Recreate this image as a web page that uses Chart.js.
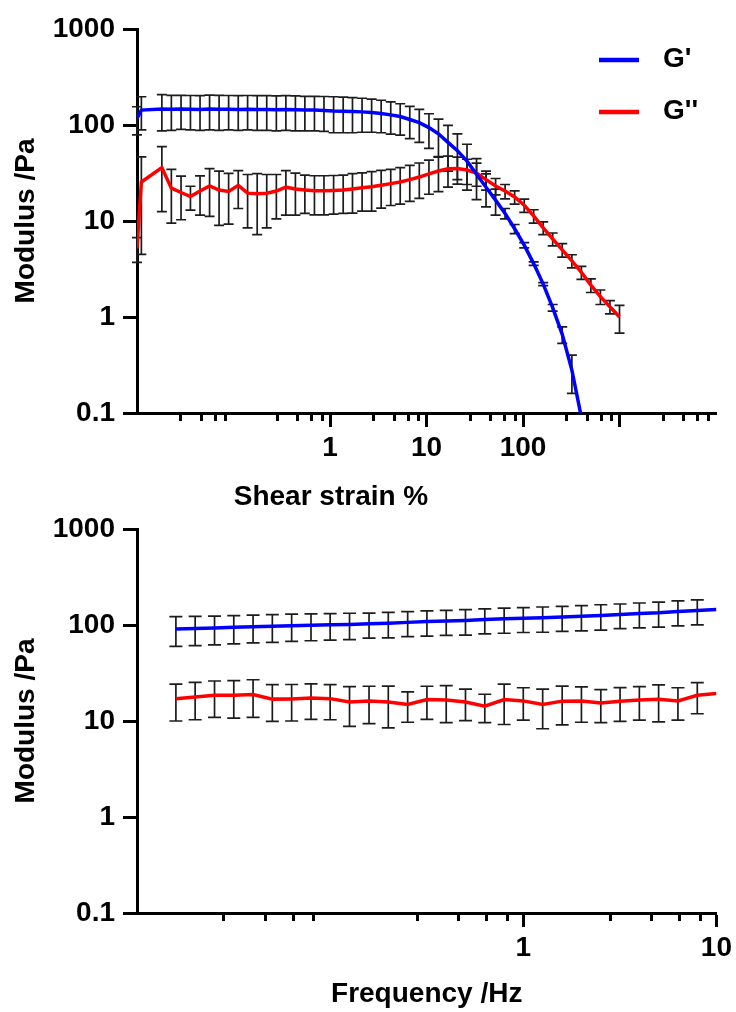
<!DOCTYPE html>
<html>
<head>
<meta charset="utf-8">
<script src="https://cdn.jsdelivr.net/npm/chart.js@4.4.0/dist/chart.umd.min.js"></script>
<style>
html,body{margin:0;padding:0;background:#ffffff;}
#wrap{position:relative;width:736px;height:1012px;overflow:hidden;background:#fff;}
#c1{position:absolute;left:0;top:0;width:736px;height:520px;}
#c2{position:absolute;left:0;top:500px;width:736px;height:512px;}
</style>
</head>
<body>
<div id="wrap">
<canvas id="c1" width="736" height="520"></canvas>
<canvas id="c2" width="736" height="512"></canvas>
</div>
<script>
// ---------- top panel: amplitude sweep ----------
const strainPct = [0.01, 0.0111, 0.0181, 0.0227, 0.0286, 0.0358, 0.045, 0.0565, 0.0709, 0.089, 0.112, 0.14,
  0.176, 0.221, 0.278, 0.349, 0.438, 0.549, 0.69, 0.866, 1.09, 1.37, 1.71, 2.15, 2.7, 3.39, 4.26, 5.34,
  6.71, 8.42, 10.6, 13.3, 16.7, 20.9, 26.3, 33, 41.4, 52, 65.2, 81.9, 103, 129, 162, 203, 255, 321, 403,
  505, 634, 796, 1000];
const gPrimeStrain = [117, 143, 147, 146, 147, 146, 145, 147, 146, 146, 145, 146, 145, 145, 144, 145, 144,
  143, 143, 142, 140, 139, 138, 137, 135, 132, 127.5, 122.4, 114, 105.8, 94, 81, 66, 54, 42, 30.7, 22.5,
  16.5, 12, 8.3, 5.6, 3.6, 2.2, 1.25, 0.66, 0.28, 0.09, null, null, null, null];
const gPrimeStrainSD = [38, 54, 60, 58, 57, 57, 57, 58, 58, 57, 57, 57, 57, 57, 57, 57, 57, 56, 56, 56, 57,
  56, 55, 53, 51, 49, 47, 44, 42, 40, 37, 34, 33, 27, 21, 14, 8.5, 5, 1.5, 0.9, 0.35, 0.15, 0.08, 0.1, 0.13,
  0.12, null, null, null, null, null];
const gDoubleStrain = [5.2, 25.5, 36, 22, 19.8, 18, 20.5, 23.2, 21, 20.3, 23.5, 19.5, 19.2, 19.5, 20.5, 22.5,
  21.5, 21, 20.6, 20.6, 20.8, 21, 21.6, 22.2, 22.7, 23.6, 24.5, 25.5, 27, 28.7, 31, 33.2, 35, 35.2, 34, 31.5,
  27, 23.2, 20.5, 17.8, 14.6, 11.3, 8.5, 6.5, 5.0, 3.85, 2.92, 2.15, 1.63, 1.28, 1.0];
const gDoubleStrainSD = [1.5, 21, 23.5, 12.5, 9.5, 5, 9, 12, 12, 11, 10, 11, 12, 11, 10, 11, 10, 9, 9, 9, 9, 9,
  9.5, 9.5, 10, 10, 10, 10.5, 11, 11.5, 12, 13, 12.5, 11, 10, 8.5, 6, 4.5, 3.5, 2.8, 2.3, 1.8, 1.3, 1.0, 0.8,
  0.6, 0.45, 0.35, 0.28, 0.2, 0.32];

// ---------- bottom panel: frequency sweep ----------
const freqHz = [0.0159, 0.02, 0.0252, 0.0317, 0.0399, 0.0502, 0.0632, 0.0796, 0.1, 0.126, 0.159, 0.2, 0.252,
  0.317, 0.399, 0.502, 0.632, 0.796, 1, 1.26, 1.59, 2, 2.52, 3.17, 3.99, 5.02, 6.32, 7.96, 10];
const gPrimeFreq = [91, 92, 93, 94.5, 96, 97, 98.5, 99.5, 100.5, 101.5, 103, 104.5, 106.5, 108.5, 110, 111.5,
  114, 116, 117.5, 119, 121, 123, 125.5, 128.5, 131.5, 134, 138, 141.5, 145];
const gPrimeFreqSD = [31, 31, 31, 31, 31, 31, 31, 31, 31, 31, 30, 31, 31, 32, 32, 33, 33, 34, 34, 35, 35, 36,
  37, 37, 38, 39, 40, 41, null];
const gDoubleFreq = [17.1, 17.8, 18.5, 18.5, 18.9, 16.9, 17.0, 17.4, 17.1, 15.8, 16.2, 15.8, 14.9, 16.7, 16.5,
  15.8, 14.3, 16.7, 16.2, 14.9, 16.1, 16.2, 15.4, 16.1, 16.5, 16.8, 16.2, 18.5, 19.3];
const gDoubleFreqSD = [7.1, 7.5, 7.6, 7.8, 8, 7, 7, 7, 6.8, 7, 6.8, 7.3, 5.2, 6.3, 6.9, 5.7, 4.7, 7.5, 6, 6.6,
  7, 6.5, 5.8, 6.2, 6.3, 7, 6, 6.6, null];

// ---------- ticks, labels ----------
const yTickValues = [0.1, 1, 10, 100, 1000];
const yTickLabels = ['0.1', '1', '10', '100', '1000'];
const strainMajorTicks = [1, 10, 100, 1000];
const strainMajorLabels = ['1', '10', '100', ''];
const freqMajorTicks = [1, 10];
const freqMajorLabels = ['1', '10'];
const minorMultipliers = [2.8, 4.6, 6.4, 8.2];
const strainDecades = [0.01, 0.1, 1, 10, 100, 1000];
const freqDecades = [0.01, 0.1, 1];
const seriesLabels = ["G'", "G''"];
const seriesColors = ['#0000FF', '#FF0000'];
const yTitle = 'Modulus /Pa';
const strainTitle = 'Shear strain %';
const freqTitle = 'Frequency /Hz';

const FAMILY = "'Liberation Sans', Arial, Helvetica, sans-serif";
const BIG = {family: FAMILY, size: 28, weight: 'bold'};

const toPoints = (xs, ys) => xs.map((x, i) => ({x: x, y: ys[i]}));
const minorList = (decades) => {
  const out = [];
  decades.forEach(d => minorMultipliers.forEach(m => out.push(d * m)));
  return out;
};

const errorBars = {
  id: 'errorBars',
  beforeDatasetsDraw(chart) {
    const ctx = chart.ctx, xs = chart.scales.x, ys = chart.scales.y, a = chart.chartArea;
    ctx.save();
    ctx.beginPath();
    ctx.rect(a.left - 8, a.top - 4, a.right - a.left + 16, a.bottom - a.top + 6);
    ctx.clip();
    ctx.strokeStyle = '#1c1c1c';
    ctx.lineWidth = 1.7;
    chart.data.datasets.forEach(ds => {
      const sd = ds.errors, cap = ds.capWidth;
      ds.data.forEach((p, i) => {
        if (p.y == null || sd[i] == null) return;
        const x = xs.getPixelForValue(p.x);
        const hi = p.y + sd[i], lo = p.y - sd[i];
        const yHi = ys.getPixelForValue(hi);
        const yLo = lo > 0 ? ys.getPixelForValue(lo) : a.bottom + 10;
        ctx.beginPath();
        ctx.moveTo(x, yHi); ctx.lineTo(x, yLo);
        ctx.moveTo(x - cap / 2, yHi); ctx.lineTo(x + cap / 2, yHi);
        if (lo > 0) { ctx.moveTo(x - cap / 2, yLo); ctx.lineTo(x + cap / 2, yLo); }
        ctx.stroke();
      });
    });
    ctx.restore();
  }
};

const minorTicks = {
  id: 'minorTicks',
  afterDraw(chart, args, opts) {
    const xs = chart.scales.x, ctx = chart.ctx, y0 = chart.chartArea.bottom;
    ctx.save();
    ctx.strokeStyle = '#000';
    ctx.lineWidth = 3;
    opts.values.forEach(v => {
      const x = Math.round(xs.getPixelForValue(v)) + 0.5;
      ctx.beginPath(); ctx.moveTo(x, y0); ctx.lineTo(x, y0 + 8); ctx.stroke();
    });
    ctx.restore();
  }
};

const legendAndTitle = {
  id: 'legendAndTitle',
  afterDraw(chart, args, opts) {
    const ctx = chart.ctx;
    ctx.save();
    if (opts.legend) {
      chart.data.datasets.forEach((ds, i) => {
        const y = 60 + i * 52;
        ctx.strokeStyle = ds.borderColor;
        ctx.lineWidth = 4.5;
        ctx.beginPath(); ctx.moveTo(599, y); ctx.lineTo(639, y); ctx.stroke();
        ctx.fillStyle = '#000';
        ctx.font = 'bold 28px ' + FAMILY;
        ctx.textAlign = 'left';
        ctx.textBaseline = 'middle';
        ctx.fillText(ds.label, 663, y - 1);
      });
    }
    if (opts.xTitle) {
      const xs = chart.scales.x;
      ctx.fillStyle = '#000';
      ctx.font = 'bold 28px ' + FAMILY;
      ctx.textAlign = 'center';
      ctx.textBaseline = 'middle';
      ctx.fillText(opts.xTitle, xs.getPixelForValue(opts.titleAt) + 1, opts.titleY);
    }
    ctx.restore();
  }
};

function yAxis() {
  return {
    type: 'logarithmic', min: 0.1, max: 1000,
    afterBuildTicks: s => { s.ticks = yTickValues.map(v => ({value: v})); },
    afterFit: s => { s.width = 137; },
    ticks: {
      callback: (v, i) => yTickLabels[i],
      font: BIG, color: '#000', padding: 8, autoSkip: false
    },
    grid: {drawOnChartArea: false, tickLength: 14, tickWidth: 3, tickColor: '#000'},
    border: {color: '#000', width: 3},
    title: {display: true, text: yTitle, font: BIG, color: '#000', padding: {top: 9, bottom: 0}}
  };
}

function makeDatasets(xs, g1, s1, g2, s2, cap) {
  return [
    {label: seriesLabels[0], data: toPoints(xs, g1), errors: s1, capWidth: cap,
     borderColor: seriesColors[0], backgroundColor: seriesColors[0], borderWidth: 3.5,
     showLine: true, pointRadius: 0, tension: 0},
    {label: seriesLabels[1], data: toPoints(xs, g2), errors: s2, capWidth: cap,
     borderColor: seriesColors[1], backgroundColor: seriesColors[1], borderWidth: 3.5,
     showLine: true, pointRadius: 0, tension: 0}
  ];
}

const common = {
  responsive: false, maintainAspectRatio: false, animation: false, events: [],
};

new Chart(document.getElementById('c1'), {
  type: 'scatter',
  data: {datasets: makeDatasets(strainPct, gPrimeStrain, gPrimeStrainSD, gDoubleStrain, gDoubleStrainSD, 10)},
  options: Object.assign({}, common, {
    layout: {padding: {left: 0, top: 29, right: 20, bottom: 0}},
    plugins: {
      legend: {display: false}, tooltip: {enabled: false},
      minorTicks: {values: minorList(strainDecades)},
      legendAndTitle: {legend: true, xTitle: strainTitle, titleAt: 1, titleY: 497}
    },
    scales: {
      x: {
        type: 'logarithmic', min: 0.01, max: 10000,
        afterBuildTicks: s => { s.ticks = strainMajorTicks.map(v => ({value: v})); },
        afterFit: s => { s.height = 107; },
        ticks: {callback: (v, i) => strainMajorLabels[i], font: BIG, color: '#000', padding: 4,
                maxRotation: 0, autoSkip: false},
        grid: {drawOnChartArea: false, tickLength: 14, tickWidth: 3, tickColor: '#000'},
        border: {color: '#000', width: 3},
        title: {display: false}
      },
      y: yAxis()
    }
  }),
  plugins: [errorBars, minorTicks, legendAndTitle]
});

new Chart(document.getElementById('c2'), {
  type: 'scatter',
  data: {datasets: makeDatasets(freqHz, gPrimeFreq, gPrimeFreqSD, gDoubleFreq, gDoubleFreqSD, 13)},
  options: Object.assign({}, common, {
    layout: {padding: {left: 0, top: 29, right: 17, bottom: 0}},
    plugins: {
      legend: {display: false}, tooltip: {enabled: false},
      minorTicks: {values: minorList(freqDecades)},
      legendAndTitle: {legend: false}
    },
    scales: {
      x: {
        type: 'logarithmic', min: 0.01, max: 10,
        afterBuildTicks: s => { s.ticks = freqMajorTicks.map(v => ({value: v})); },
        afterFit: s => { s.height = 99; },
        ticks: {callback: (v, i) => freqMajorLabels[i], font: BIG, color: '#000', padding: 4,
                maxRotation: 0, autoSkip: false},
        grid: {drawOnChartArea: false, tickLength: 14, tickWidth: 3, tickColor: '#000'},
        border: {color: '#000', width: 3},
        title: {display: true, text: freqTitle, font: BIG, color: '#000', padding: {top: 0, bottom: 1}}
      },
      y: yAxis()
    }
  }),
  plugins: [errorBars, minorTicks, legendAndTitle]
});
</script>
</body>
</html>
